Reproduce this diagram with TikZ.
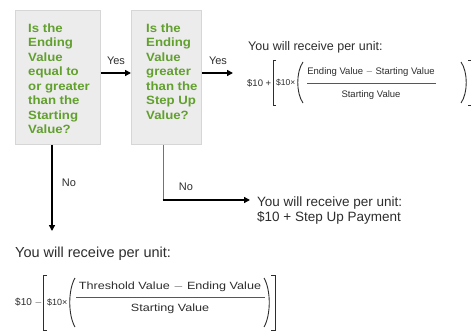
\documentclass[tikz,border=0pt]{standalone}
\usepackage{fontspec}
\setmainfont{Liberation Sans}
\usetikzlibrary{arrows.meta}
\definecolor{qgreen}{RGB}{98,160,46}
\definecolor{boxfill}{RGB}{236,236,236}
\definecolor{boxline}{RGB}{214,214,214}
\definecolor{txt}{RGB}{45,45,45}
\newcommand{\qlines}[1]{\scalebox{1.1}[1]{\begin{tabular}{@{}l@{}}#1\end{tabular}}}
\tikzset{
  qbox/.style={draw=boxline, fill=boxfill, line width=0.8pt, anchor=north west, inner sep=0pt},
  qtext/.style={text=qgreen, font=\fontsize{12}{14.5}\selectfont\bfseries, anchor=north west, inner sep=0pt},
  conn/.style={line width=1.6pt, -{Triangle[length=6pt,width=6pt]}},
  thinconn/.style={line width=1pt, draw=black!55},
  lbl/.style={font=\fontsize{11}{12}\selectfont, text=txt, inner sep=0pt},
  res/.style={font=\fontsize{13.5}{15}\selectfont, text=txt, inner sep=0pt, anchor=west, align=left},
  fsm/.style={font=\fontsize{10}{11}\selectfont, text=txt, inner sep=0pt, anchor=west},
  fx/.style={font=\fontsize{8.5}{10}\selectfont, text=txt, inner sep=0pt, anchor=west},
  fnum/.style={font=\fontsize{9.5}{10}\selectfont, text=txt, inner sep=0pt},
  brk/.style={line width=0.9pt, draw=txt},
  fline/.style={line width=0.9pt, draw=txt!80},
}
\begin{document}
\begin{tikzpicture}[x=1pt,y=-1pt]
\useasboundingbox (0,0) rectangle (471,331);
\clip (0,0) rectangle (471,331);
% decision boxes
\node[qbox, minimum width=85pt, minimum height=134pt] (b1) at (15,10) {};
\node[qbox, minimum width=70pt, minimum height=134pt] (b2) at (131,10) {};
\node[qtext] (t1) at (28,22) {\qlines{Is the\\Ending\\Value\\equal to\\or greater\\than the\\Starting\\Value?}};
\node[qtext] (t2) at (146,22) {\qlines{Is the\\Ending\\Value\\greater\\than the\\Step Up\\Value?}};
% connectors
\coordinate (ay) at (0,73);
\draw[conn] (b1.east |- ay) -- (b2.west |- ay);
\node[lbl] (yes1) at (116,61) {Yes};
\coordinate (r1) at (233,73);
\draw[conn] (b2.east |- ay) -- (r1);
\node[lbl] (yes2) at (218,61) {Yes};
\coordinate (d1) at (52,231);
\draw[conn] (d1 |- b1.south) -- (d1);
\node[lbl] (no1) at (69,183) {No};
\coordinate (c2) at (163,200);
\coordinate (e2) at (250,200);
\draw[thinconn] (c2 |- b2.south) -- (c2);
\draw[conn] ([xshift=-0.5pt]c2) -- (e2);
\node[lbl] (no2) at (186,187) {No};
% middle result
\node[res] (m1) at (257,203) {You will receive per unit:};
\node[res] (m2) at (257,218) {\$10 + Step Up Payment};
% top result
\node[res, font=\fontsize{12.5}{14}\selectfont] (top1) at (248,47) {You will receive per unit:};
\node[fsm, font=\fontsize{9.5}{10}\selectfont] (fa) at (247,83) {\$10 +};
\draw[brk] (276,60) -- (273,60) -- (273,105) -- (276,105);
\node[fx] (fb) at (276,83) {\$10×};
\draw[brk] (303,62) .. controls (296,72) and (296,93) .. (303,103);
\node[fnum] (fn) at (371,72) {Ending Value $-$ Starting Value};
\draw[fline] (307,83) -- (436,83);
\node[fnum] (fd) at (371,95) {Starting Value};
\draw[brk] (461,62) .. controls (468,72) and (468,93) .. (461,103);
\draw[brk] (468,60) -- (472,60) -- (472,105) -- (468,105);
% bottom result
\node[res, font=\fontsize{14.5}{16}\selectfont] (bot1) at (15,254) {You will receive per unit:};
\node[fsm] (ga) at (15,302) {\$10 $-$};
\draw[brk] (47,275) -- (43,275) -- (43,330) -- (47,330);
\node[fx, font=\fontsize{9}{10}\selectfont] (gb) at (47,302) {\$10×};
\draw[brk] (75,278) .. controls (68,290) and (68,315) .. (75,327);
\node[fnum, font=\fontsize{10.5}{11}\selectfont] (gn) at (170,287) {\scalebox{1.2}[1]{Threshold Value $-$ Ending Value}};
\draw[fline] (76,297) -- (265,297);
\node[fnum, font=\fontsize{10.5}{11}\selectfont] (gd) at (170,309) {\scalebox{1.2}[1]{Starting Value}};
\draw[brk] (264,278) .. controls (271,290) and (271,315) .. (264,327);
\draw[brk] (271,275) -- (275,275) -- (275,330) -- (271,330);
\end{tikzpicture}
\end{document}
